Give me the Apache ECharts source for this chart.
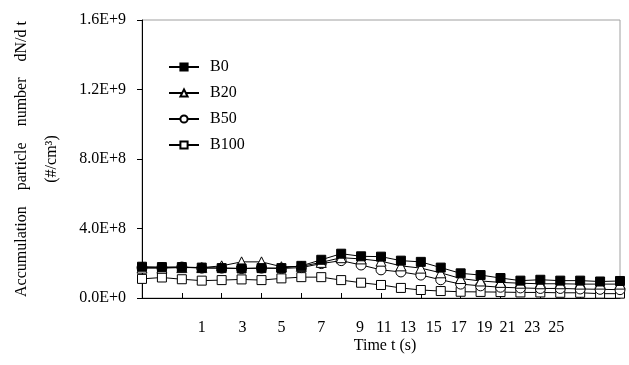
<!DOCTYPE html>
<html>
<head>
<meta charset="utf-8">
<script src="https://cdn.jsdelivr.net/npm/echarts@6/dist/echarts.min.js"></script>
<style>
  html, body { margin: 0; padding: 0; background: #fff; }
  #chart { width: 629px; height: 365px; }
</style>
</head>
<body>
<div id="chart"></div>
<script>
    var categories = ['1','2','3','4','5','6','7','8','9','10','11','12','13','14','15','16','17','18','19','20','21','22','23','24','25'];
    var B0   = [1.80, 1.78, 1.78, 1.75, 1.72, 1.70, 1.72, 1.72, 1.85, 2.20, 2.55, 2.40, 2.38, 2.15, 2.08, 1.75, 1.42, 1.32, 1.15, 1.00, 1.05, 1.00, 1.00, 0.95, 0.98];
    var B20  = [1.72, 1.72, 1.75, 1.75, 1.85, 2.08, 2.08, 1.80, 1.82, 2.05, 2.32, 2.25, 2.12, 1.85, 1.72, 1.45, 1.12, 0.98, 0.90, 0.85, 0.82, 0.82, 0.80, 0.80, 0.80];
    var B50  = [1.75, 1.75, 1.78, 1.72, 1.72, 1.70, 1.72, 1.70, 1.75, 1.98, 2.15, 1.90, 1.62, 1.50, 1.32, 1.05, 0.80, 0.70, 0.62, 0.58, 0.55, 0.55, 0.52, 0.50, 0.48];
    var B100 = [1.10, 1.18, 1.08, 1.00, 1.03, 1.07, 1.03, 1.13, 1.20, 1.20, 1.03, 0.88, 0.75, 0.58, 0.46, 0.40, 0.36, 0.35, 0.34, 0.32, 0.32, 0.30, 0.30, 0.25, 0.25];
    var SCALE = 1e8;
    // x tick labels as printed (odd spacing of the original)
    var tickLabels = ['1','3','5','7','9','11','13','15','17','19','21','23','25'];
    var labelSlots = [3, 5.05, 7, 9, 10.95, 12.15, 13.35, 14.65, 15.9, 17.2, 18.35, 19.6, 20.8];

    var font = 'Liberation Serif';

    function scaled(arr) {
        return arr.map(function (v) { return v * SCALE; });
    }

    function sci(v) {
        if (v === 0) return '0.0E+0';
        var e = Math.floor(Math.log10(v) + 1e-9);
        var m = v / Math.pow(10, e);
        return m.toFixed(1) + 'E+' + e;
    }

    function mkSeries(name, data, symbol, size, fill, z) {
        return {
            name: name,
            type: 'line',
            data: scaled(data),
            symbol: symbol,
            symbolSize: size,
            z: z,
            lineStyle: { color: '#000', width: 1 },
            itemStyle: { color: fill, borderColor: '#000', borderWidth: 1 }
        };
    }

    var chart = echarts.init(document.getElementById('chart'));
    var option = {
        animation: false,
        grid: {
            left: 142, right: 9, top: 20, bottom: 67,
            outerBoundsMode: 'none',
            show: true,
            borderColor: '#a0a0a0',
            borderWidth: 1
        },
        legend: {
            orient: 'vertical',
            left: 163,
            top: 53,
            itemWidth: 30,
            itemHeight: 9,
            itemGap: 8,
            data: ['B0', 'B20', 'B50', 'B100'],
            textStyle: { fontFamily: font, fontSize: 16, color: '#000', lineHeight: 18, padding: [0, 0, 0, 6] }
        },
        xAxis: [
            {
                type: 'category',
                data: categories,
                boundaryGap: false,
                name: 'Time t (s)',
                nameLocation: 'middle',
                nameGap: 40,
                nameTextStyle: { fontFamily: font, fontSize: 16, color: '#000', padding: [0, 0, 0, 8] },
                axisLine: { lineStyle: { color: '#000', width: 1 } },
                axisTick: { show: true, inside: true, length: 5, interval: 1, lineStyle: { color: '#000' } },
                axisLabel: { show: false },
                splitLine: { show: false }
            },
            {
                type: 'value',
                min: 0,
                max: categories.length - 1,
                position: 'bottom',
                axisLine: { show: false },
                axisTick: { show: false },
                splitLine: { show: false },
                axisLabel: {
                    customValues: labelSlots,
                    margin: 22,
                    fontFamily: font,
                    fontSize: 16,
                    color: '#000',
                    formatter: function (v) {
                        var best = 0;
                        for (var i = 1; i < labelSlots.length; i++) {
                            if (Math.abs(labelSlots[i] - v) < Math.abs(labelSlots[best] - v)) best = i;
                        }
                        return tickLabels[best];
                    }
                }
            }
        ],
        yAxis: {
            type: 'value',
            min: 0,
            max: 1.6e9,
            interval: 4e8,
            name: 'Accumulation    particle    number    dN/d t\n(#/cm\u00b3)',
            nameLocation: 'middle',
            nameRotate: 90,
            nameGap: 75,
            nameTextStyle: { fontFamily: font, fontSize: 16, color: '#000', lineHeight: 30, align: 'center' },
            axisLine: { show: true, lineStyle: { color: '#000', width: 1 } },
            axisTick: { show: true, length: 5, lineStyle: { color: '#000' } },
            axisLabel: { margin: 16, fontFamily: font, fontSize: 16, color: '#000', formatter: sci },
            splitLine: { show: false }
        },
        series: [
            mkSeries('B0', B0, 'rect', 9, '#000', 6),
            mkSeries('B20', B20, 'triangle', 10, '#fff', 5),
            mkSeries('B50', B50, 'circle', 10, '#fff', 4),
            mkSeries('B100', B100, 'rect', 9, '#fff', 3)
        ]
    };
    chart.setOption(option);
</script>
</body>
</html>
